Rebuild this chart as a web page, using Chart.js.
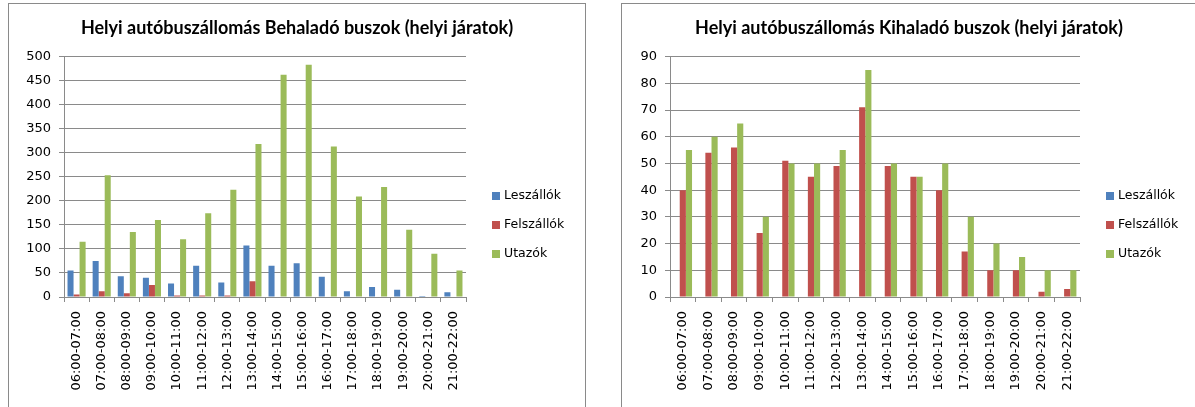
<!DOCTYPE html>
<html>
<head>
<meta charset="utf-8">
<script src="https://cdn.jsdelivr.net/npm/chart.js@4/dist/chart.umd.min.js"></script>
<style>
  body { margin: 0; background: #fff; width: 1195px; height: 407px; overflow: hidden; position: relative; }
  .box { position: absolute; top: 3px; border: 1px solid #8a8a8a; background: #fff; }
  canvas { display: block; }
</style>
</head>
<body>
<div class="box" style="left:8px; width:576px; height:420px;"><canvas id="behalado" width="576" height="403"></canvas></div>
<div class="box" style="left:621px; width:590px; height:420px;"><canvas id="kihalado" width="574" height="403"></canvas></div>
<script>
// Time slots on the x axis
var categories = ['06:00-07:00', '07:00-08:00', '08:00-09:00', '09:00-10:00', '10:00-11:00', '11:00-12:00',
    '12:00-13:00', '13:00-14:00', '14:00-15:00', '15:00-16:00', '16:00-17:00', '17:00-18:00',
    '18:00-19:00', '19:00-20:00', '20:00-21:00', '21:00-22:00'];

var seriesNames = ['Leszállók', 'Felszállók', 'Utazók'];

// Behaladó buszok
var beLeszallok = [55, 75, 43, 40, 28, 65, 30, 107, 65, 70, 42, 12, 21, 15, 2, 10];
var beFelszallok = [5, 12, 8, 25, 3, 3, 3, 33, 0, 0, 0, 0, 0, 0, 0, 0];
var beUtazok = [115, 253, 135, 160, 120, 174, 223, 318, 462, 483, 313, 209, 229, 140, 90, 55];

// Kihaladó buszok
var kiLeszallok = [0, 0, 0, 0, 0, 0, 0, 0, 0, 0, 0, 0, 0, 0, 0, 0];
var kiFelszallok = [40, 54, 56, 24, 51, 45, 49, 71, 49, 45, 40, 17, 10, 10, 2, 3];
var kiUtazok = [55, 60, 65, 30, 50, 50, 55, 85, 50, 45, 50, 30, 20, 15, 10, 10];

// Y axis ranges
var beYMax = 500, beYStep = 50;
var kiYMax = 90, kiYStep = 10;

var colors = ['#4F81BD', '#C0504D', '#9BBB59'];
var gridColor = '#8a8a8a';

// Legend drawn at the right side, like the Excel chart
var sideLegend = {
    id: 'sideLegend',
    afterDraw: function (chart) {
        var ctx = chart.ctx;
        var x = chart.chartArea.right + 26;
        ctx.save();
        ctx.font = '12.5px "DejaVu Sans"';
        ctx.textBaseline = 'middle';
        chart.data.datasets.forEach(function (ds, i) {
            var y = 192 + i * 29;
            ctx.fillStyle = ds.backgroundColor;
            ctx.fillRect(x, y - 4, 8, 8);
            ctx.fillStyle = '#000';
            ctx.fillText(ds.label, x + 12, y);
        });
        ctx.restore();
    }
};

function makeChart(id, title, values, yMax, yStep, yWidth, legendSpace) {
    var ctx = document.getElementById(id).getContext('2d');
    return new Chart(ctx, {
        type: 'bar',
        data: {
            labels: categories,
            datasets: values.map(function (v, i) {
                return {
                    label: seriesNames[i],
                    data: v,
                    backgroundColor: colors[i],
                    borderWidth: 0,
                    barPercentage: 1,
                    categoryPercentage: 0.72
                };
            })
        },
        options: {
            responsive: false,
            animation: false,
            devicePixelRatio: 1,
            layout: { padding: 0 },
            scales: {
                x: {
                    grid: { offset: true, drawOnChartArea: false, tickLength: 5, color: gridColor },
                    border: { color: gridColor },
                    ticks: {
                        autoSkip: false, minRotation: 90, maxRotation: 90, padding: 9,
                        color: '#000', font: { family: 'DejaVu Sans', size: 13 }
                    },
                    afterFit: function (scale) { scale.height = 110; }
                },
                y: {
                    min: 0,
                    max: yMax,
                    grid: { color: gridColor, tickLength: 5 },
                    border: { color: gridColor },
                    ticks: {
                        stepSize: yStep, padding: 8,
                        color: '#000', font: { family: 'DejaVu Sans', size: 13 }
                    },
                    afterFit: function (scale) { scale.width = yWidth; }
                },
                // empty axis on the right keeps room for the legend
                legendSpace: {
                    position: 'right',
                    min: 0,
                    max: yMax,
                    grid: { drawOnChartArea: false, drawTicks: false },
                    border: { display: false },
                    ticks: { display: false },
                    afterFit: function (scale) { scale.width = legendSpace; }
                }
            },
            plugins: {
                title: {
                    display: true,
                    text: title,
                    color: '#000',
                    font: { family: 'Lato', weight: 'bold', size: 18 },
                    padding: { top: 13, bottom: 18 }
                },
                legend: { display: false },
                tooltip: { enabled: false }
            }
        },
        plugins: [sideLegend]
    });
}

makeChart('behalado', 'Helyi autóbuszállomás Behaladó buszok (helyi járatok)',
    [beLeszallok, beFelszallok, beUtazok], beYMax, beYStep, 55, 119);
makeChart('kihalado', 'Helyi autóbuszállomás Kihaladó buszok (helyi járatok)',
    [kiLeszallok, kiFelszallok, kiUtazok], kiYMax, kiYStep, 48, 116);
</script>
</body>
</html>
